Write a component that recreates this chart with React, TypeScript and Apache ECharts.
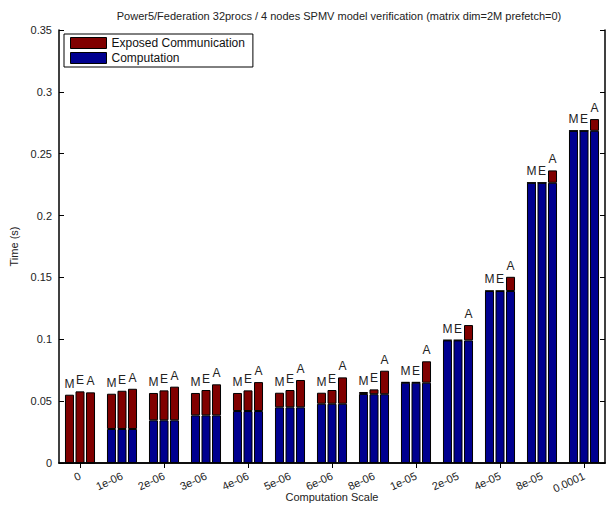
import React, { useEffect, useRef } from "react";
import * as echarts from "echarts";

const categories = ["0", "1e-06", "2e-06", "3e-06", "4e-06", "5e-06", "6e-06", "8e-06", "1e-05", "2e-05", "4e-05", "8e-05", "0.0001"];

// Computation time (blue) per model
const compM = [0, 0.0275, 0.0345, 0.0385, 0.042, 0.045, 0.0479, 0.0558, 0.0649, 0.0991, 0.139, 0.2265, 0.2685];
const compE = [0, 0.0275, 0.0345, 0.0385, 0.042, 0.045, 0.0479, 0.0556, 0.0649, 0.0991, 0.139, 0.2265, 0.2685];
const compA = [0, 0.0275, 0.0345, 0.0385, 0.042, 0.045, 0.0479, 0.0556, 0.0649, 0.0991, 0.139, 0.2265, 0.2685];

// Exposed communication time (dark red) per model
const commM = [0.0552, 0.0285, 0.0221, 0.0181, 0.0146, 0.0118, 0.0089, 0.0016, 0.0005, 0.0003, 0.0002, 0, 0];
const commE = [0.0579, 0.0309, 0.0242, 0.0205, 0.0167, 0.014, 0.0111, 0.0039, 0.0005, 0.0003, 0.0002, 0, 0];
const commA = [0.0571, 0.0325, 0.0272, 0.0251, 0.0234, 0.0221, 0.0213, 0.019, 0.0173, 0.0124, 0.0115, 0.01, 0.0095];

const modelKeys = ["M", "E", "A"];
const yTicks = [0, 0.05, 0.1, 0.15, 0.2, 0.25, 0.3, 0.35];

const BLUE = "#00008f";
const RED = "#800000";
const FONT = "Liberation Sans, Arial, Helvetica, sans-serif";

export default function App() {
  const ref = useRef<HTMLDivElement>(null);
  useEffect(() => {
    if (!ref.current) return;
    const chart = echarts.init(ref.current, null, { renderer: "svg" });
    const comps = [compM, compE, compA];
    const comms = [commM, commE, commA];
    const series: any[] = [];
    modelKeys.forEach((k, i) => {
      series.push({
        name: "Computation",
        type: "bar",
        stack: k,
        data: comps[i],
        barWidth: 9,
        barGap: "17%",
        itemStyle: { color: BLUE, borderColor: "#000", borderWidth: 1 },
      });
      series.push({
        name: "Exposed Communication",
        type: "bar",
        stack: k,
        data: comms[i],
        barWidth: 9,
        barGap: "17%",
        itemStyle: { color: RED, borderColor: "#000", borderWidth: 1 },
        label: {
          show: true,
          position: "top",
          distance: 5,
          formatter: k,
          color: "#222",
          fontSize: 12,
          fontFamily: FONT,
        },
      });
    });
    const axisLine = { show: true, lineStyle: { color: "#000", width: 1.5 } };
    chart.setOption({
      animation: false,
      backgroundColor: "#fff",
      textStyle: { fontFamily: FONT },
      title: {
        text: "Power5/Federation 32procs / 4 nodes SPMV model verification (matrix dim=2M prefetch=0)",
        left: 334,
        top: 5,
        textAlign: "center",
        textStyle: { fontSize: 11, fontWeight: "normal", color: "#222", fontFamily: FONT },
      },
      legend: {
        orient: "vertical",
        left: 64,
        top: 34,
        padding: [3, 8, 3, 6],
        itemGap: 3,
        itemWidth: 36,
        itemHeight: 11,
        backgroundColor: "#fff",
        borderColor: "#000",
        borderWidth: 1,
        borderRadius: 0,
        icon: "rect",
        data: ["Exposed Communication", "Computation"],
        itemStyle: { borderColor: "#000", borderWidth: 1 },
        textStyle: { fontSize: 12, color: "#111", fontFamily: FONT, padding: [0, 0, 0, 0] },
      },
      grid: { left: 59, right: 7, top: 30, bottom: 43, containLabel: false, outerBoundsMode: "none" },
      xAxis: [
        {
          type: "category",
          data: categories,
          position: "bottom",
          name: "Computation Scale",
          nameLocation: "middle",
          nameGap: 28,
          nameMoveOverlap: false,
          nameTextStyle: { fontSize: 11, color: "#222" },
          axisLine,
          axisTick: { show: true, inside: true, alignWithLabel: true, length: 5, lineStyle: { color: "#000" } },
          axisLabel: { rotate: 25, fontSize: 11, color: "#222", margin: 12, interval: 0 },
        },
        {
          type: "category",
          data: categories,
          position: "top",
          axisLine,
          axisTick: { show: true, inside: true, alignWithLabel: true, length: 5, lineStyle: { color: "#000" } },
          axisLabel: { show: false },
        },
      ],
      yAxis: [
        {
          type: "value",
          min: 0,
          max: 0.35,
          interval: 0.05,
          name: "Time (s)",
          nameLocation: "middle",
          nameGap: 40,
          nameMoveOverlap: false,
          nameTextStyle: { fontSize: 11, color: "#222" },
          axisLine,
          axisTick: { show: true, inside: true, length: 5, lineStyle: { color: "#000" } },
          axisLabel: {
            fontSize: 11,
            color: "#222",
            margin: 7,
            formatter: (v: number) => {
              const t = yTicks.find((x) => Math.abs(x - v) < 1e-9);
              return t === undefined ? "" : String(t);
            },
          },
          splitLine: { show: false },
        },
        {
          type: "value",
          min: 0,
          max: 0.35,
          interval: 0.05,
          position: "right",
          axisLine,
          axisTick: { show: true, inside: true, length: 5, lineStyle: { color: "#000" } },
          axisLabel: { show: false },
          splitLine: { show: false },
        },
      ],
      series,
    });
    return () => chart.dispose();
  }, []);
  return <div ref={ref} style={{ width: 612, height: 506, position: "absolute", left: 0, top: 0 }} />;
}
